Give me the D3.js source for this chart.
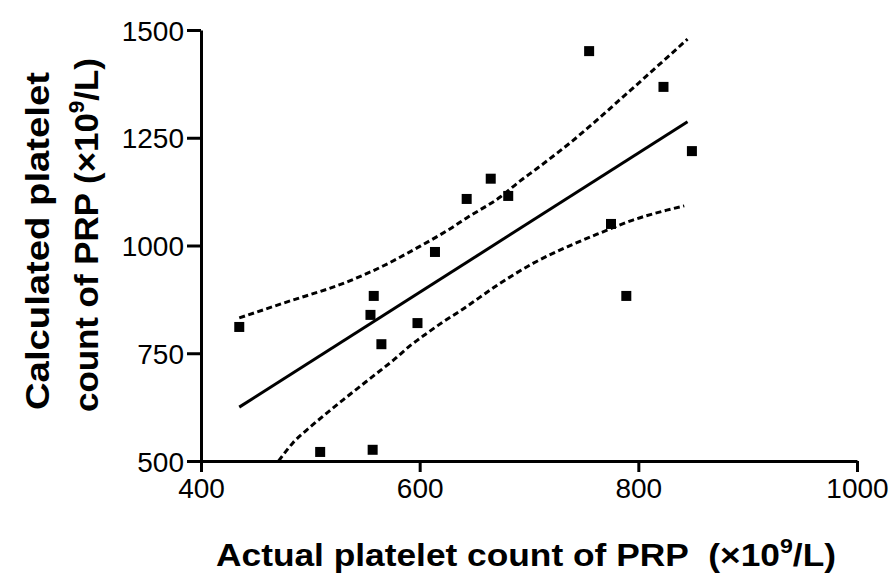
<!DOCTYPE html>
<html>
<head>
<meta charset="utf-8">
<script src="https://cdn.jsdelivr.net/npm/d3@7/dist/d3.min.js"></script>
<style>
  body { margin: 0; background: #fff; }
  text { font-family: "Liberation Sans", Arial, sans-serif; fill: #000; }
</style>
</head>
<body>
<div id="chart-area"></div>
<script>
// data
var actual     = [435, 509, 557, 558, 555, 565, 598, 614, 643, 665, 681, 755, 775, 789, 823, 849];
var calculated = [811, 521, 526, 883, 839, 771, 820, 985, 1108, 1155, 1115, 1451, 1050, 883, 1368, 1219];

var fitX = [435, 845];
var fitY = [625, 1287];

var upperX = [435, 475, 536, 567, 598, 628, 643, 674, 692, 707, 722, 738, 753, 768, 783, 799, 813, 829, 845];
var upperY = [832, 866, 918, 953, 995, 1039, 1064, 1113, 1150, 1178, 1207, 1239, 1271, 1304, 1338, 1374, 1406, 1442, 1479];

var lowerX = [471, 484, 500, 515, 530, 545, 561, 576, 591, 607, 621, 637, 674, 704, 735, 765, 795, 826, 842];
var lowerY = [500, 542, 579, 611, 642, 672, 704, 734, 767, 797, 822, 848, 913, 959, 997, 1029, 1059, 1082, 1092];

var xTicks = [400, 600, 800, 1000];
var yTicks = [500, 750, 1000, 1250, 1500];

var margin = { left:201, right:34, top:30, bottom:118 };
var width = 891 - margin.left - margin.right,
    height = 579 - margin.top - margin.bottom;

var svg = d3.select("#chart-area")
    .append("svg")
        .attr("width", 891)
        .attr("height", 579);

var g = svg.append("g")
    .attr("transform", "translate(" + margin.left + ", " + margin.top + ")");

// X scale
var x = d3.scaleLinear()
    .domain([400, 1000])
    .range([0, width]);

// Y scale
var y = d3.scaleLinear()
    .domain([500, 1500])
    .range([height, 0]);

// X axis
var xAxisCall = d3.axisBottom(x)
    .tickValues(xTicks)
    .tickFormat(d3.format("d"))
    .tickSize(11)
    .tickSizeOuter(0)
    .tickPadding(6);
var xAxis = g.append("g")
    .attr("class", "x axis")
    .attr("transform", "translate(0," + height + ")")
    .call(xAxisCall);

// Y axis
var yAxisCall = d3.axisLeft(y)
    .tickValues(yTicks)
    .tickFormat(d3.format("d"))
    .tickSize(14)
    .tickSizeOuter(0)
    .tickPadding(3);
var yAxis = g.append("g")
    .attr("class", "y axis")
    .call(yAxisCall);

[xAxis, yAxis].forEach(function(a) {
    a.selectAll("path, line").attr("stroke", "#000").attr("stroke-width", 3);
    a.selectAll("text")
        .attr("font-size", "28px")
        .attr("font-family", "'Liberation Sans', Arial, sans-serif")
        .attr("fill", "#000");
});
xAxis.selectAll("text").attr("dy", "0.7em");
yAxis.selectAll("text").attr("dy", "0.36em");

var line = d3.line()
    .curve(d3.curveMonotoneX)
    .x(function(d){ return x(d[0]); })
    .y(function(d){ return y(d[1]); });

// confidence bands
[d3.zip(upperX, upperY), d3.zip(lowerX, lowerY)].forEach(function(band) {
    g.append("path")
        .datum(band)
        .attr("d", line)
        .attr("fill", "none")
        .attr("stroke", "#000")
        .attr("stroke-width", 3)
        .attr("stroke-dasharray", "6,3.5");
});

// regression line
g.append("path")
    .datum(d3.zip(fitX, fitY))
    .attr("d", line)
    .attr("fill", "none")
    .attr("stroke", "#000")
    .attr("stroke-width", 3);

// points
var sq = 10;
g.selectAll("rect.pt")
    .data(d3.zip(actual, calculated))
    .enter()
    .append("rect")
    .attr("class", "pt")
    .attr("x", function(d){ return x(d[0]) - sq/2; })
    .attr("y", function(d){ return y(d[1]) - sq/2; })
    .attr("width", sq)
    .attr("height", sq)
    .attr("fill", "#000");

// X label
var xl = svg.append("text")
    .attr("x", 526)
    .attr("y", 566)
    .attr("font-size", "32px")
    .attr("font-weight", "bold")
    .attr("text-anchor", "middle")
    .attr("textLength", 620)
    .attr("lengthAdjust", "spacingAndGlyphs");
xl.append("tspan").text("Actual platelet count of PRP\u00a0\u00a0(\u00d710");
xl.append("tspan").attr("font-size", "21px").attr("dy", -13).text("9");
xl.append("tspan").attr("dy", 13).text("/L)");

// Y label
svg.append("text")
    .attr("transform", "translate(49,241) rotate(-90)")
    .attr("font-size", "34px")
    .attr("font-weight", "bold")
    .attr("text-anchor", "middle")
    .attr("textLength", 338)
    .attr("lengthAdjust", "spacingAndGlyphs")
    .text("Calculated platelet");

var yl2 = svg.append("text")
    .attr("transform", "translate(98,235) rotate(-90)")
    .attr("font-size", "34px")
    .attr("font-weight", "bold")
    .attr("text-anchor", "middle")
    .attr("textLength", 354)
    .attr("lengthAdjust", "spacingAndGlyphs");
yl2.append("tspan").text("count of PRP (\u00d710");
yl2.append("tspan").attr("font-size", "22px").attr("dy", -14).text("9");
yl2.append("tspan").attr("dy", 14).text("/L)");
</script>
</body>
</html>
